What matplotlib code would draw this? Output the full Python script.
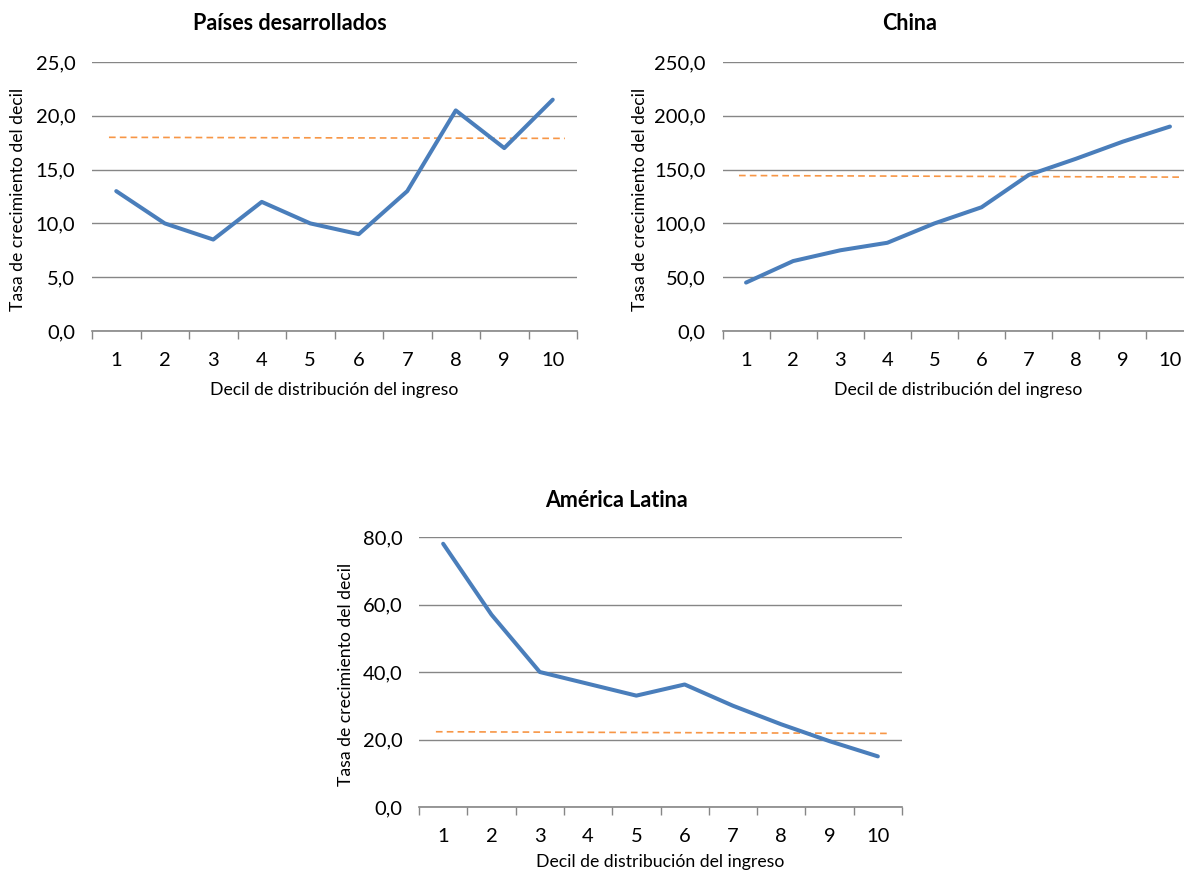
import numpy as np
import matplotlib
matplotlib.use("Agg")
import matplotlib.pyplot as plt
from matplotlib.ticker import FuncFormatter, FixedLocator

plt.rcParams['font.family'] = ['Lato', 'DejaVu Sans']

deciles = [1, 2, 3, 4, 5, 6, 7, 8, 9, 10]

desarrollados = [13.0, 10.0, 8.5, 12.0, 10.0, 9.0, 13.0, 20.5, 17.0, 21.5]
desarrollados_trend = [18.0, 17.9]

china = [45.0, 65.0, 75.0, 82.0, 100.0, 115.0, 145.0, 160.0, 176.0, 190.0]
china_trend = [144.5, 143.0]

latina = [78.0, 57.0, 40.0, 36.5, 33.0, 36.3, 30.0, 24.5, 19.5, 15.0]
latina_trend = [22.3, 21.8]

BLUE = '#4A7EBB'
ORANGE = '#F79646'
GRID = '#868686'

fig = plt.figure(figsize=(11.84, 8.74), dpi=100)


def comma(v, pos):
    return f"{v:.1f}".replace('.', ',')


def panel(rect, values, trend, ymax, ystep, title, title_xy, xlab_xy, ylab_xy):
    ax = fig.add_axes(rect)
    x = np.array(deciles)
    ax.plot(x, values, color=BLUE, lw=2.9, solid_capstyle='round', zorder=3)
    ax.plot([x[0] - 0.15, x[-1] + 0.25], trend, color=ORANGE, lw=1.2,
            ls=(0, (4, 2.5)), zorder=2)
    ax.set_xlim(0.5, 10.5)
    ax.set_ylim(0, ymax)
    ax.set_yticks(np.arange(0, ymax + ystep / 2, ystep))
    ax.yaxis.set_major_formatter(FuncFormatter(comma))
    ax.yaxis.grid(True, color=GRID, lw=1.0)
    ax.set_axisbelow(True)
    ax.tick_params(axis='y', length=0, pad=12, labelsize=14.5)
    # category boundaries get tick marks, centers get labels
    ax.xaxis.set_major_locator(FixedLocator(np.arange(0.5, 11, 1)))
    ax.xaxis.set_minor_locator(FixedLocator(x))
    ax.set_xticklabels([])
    ax.set_xticklabels([str(d) for d in deciles], minor=True)
    ax.tick_params(axis='x', which='major', length=6, width=1, color=GRID)
    ax.tick_params(axis='x', which='minor', length=0, pad=15, labelsize=14.5)
    for s in ['left', 'right', 'top']:
        ax.spines[s].set_visible(False)
    ax.spines['bottom'].set_color(GRID)
    ax.spines['bottom'].set_linewidth(1.2)
    fig.text(title_xy[0] / 1184, 1 - title_xy[1] / 874, title,
             ha='center', va='center', fontsize=15.5, fontweight='bold')
    fig.text(xlab_xy[0] / 1184, 1 - xlab_xy[1] / 874,
             'Decil de distribución del ingreso',
             ha='center', va='center', fontsize=12.7)
    fig.text(ylab_xy[0] / 1184, 1 - ylab_xy[1] / 874,
             'Tasa de crecimiento del decil',
             ha='center', va='center', rotation=90, fontsize=12.7)
    return ax


panel([92 / 1184, 1 - 331 / 874, 485 / 1184, 269 / 874],
      desarrollados, desarrollados_trend, 25, 5,
      'Países desarrollados', (290, 24), (334, 390), (18, 199))

panel([722.5 / 1184, 1 - 331 / 874, 471 / 1184, 269 / 874],
      china, china_trend, 250, 50,
      'China', (910, 24), (958, 390), (640, 199))

panel([419 / 1184, 1 - 807 / 874, 483 / 1184, 270 / 874],
      latina, latina_trend, 80, 20,
      'América Latina', (616, 500), (660, 862), (346, 674))

fig.savefig('out.png', dpi=100)
